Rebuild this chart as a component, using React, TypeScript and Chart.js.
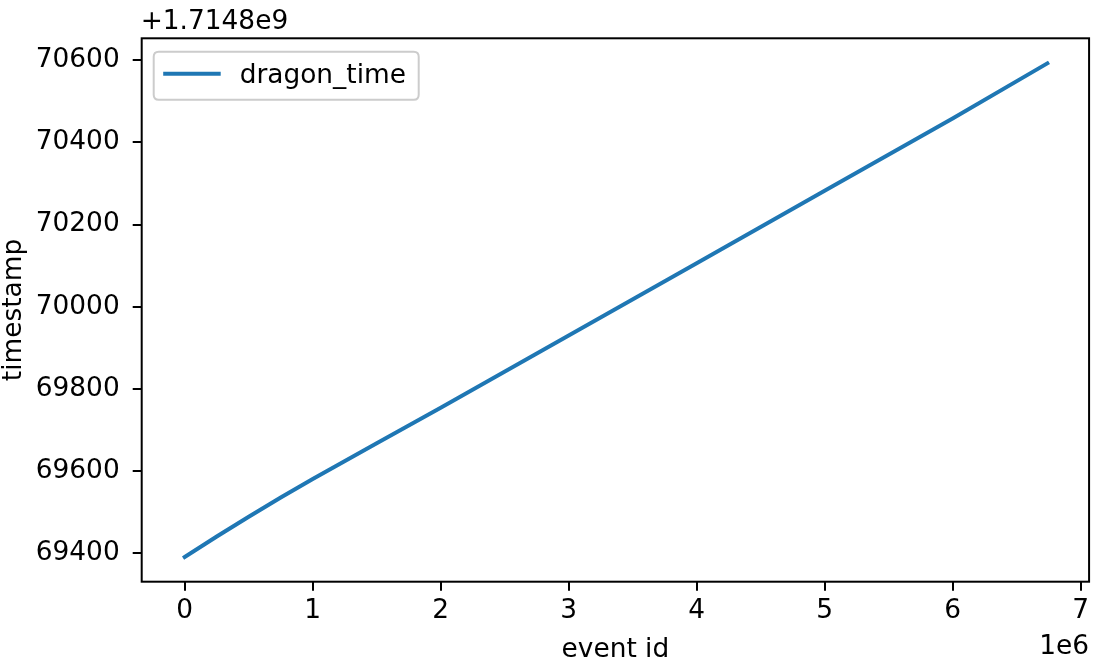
import React, { useEffect, useRef } from 'react';
import { Chart, registerables } from 'chart.js';

Chart.register(...registerables);

const OFFSET = 1.7148e9;
const seriesLabel = 'dragon_time';
const eventIds = [0, 0.25e6, 0.5e6, 0.75e6, 1e6, 1.5e6, 2e6, 3e6, 4e6, 5e6, 6e6, 6.74e6];
const timestampOffsets = [69391, 69441, 69489, 69536, 69581, 69668, 69754, 69930, 70106, 70282, 70458, 70592];
const xTicks = [0, 1, 2, 3, 4, 5, 6, 7];
const yTicks = [69400, 69600, 69800, 70000, 70200, 70400, 70600];
const xTitle = 'event id';
const yTitle = 'timestamp';
const xOffsetText = '1e6';
const yOffsetText = '+1.7148e9';

const FONT = '"DejaVu Sans", sans-serif';
const FS = 26.4;
const LINE_COLOR = '#1f77b4';

const decorPlugin = {
  id: 'decor',
  afterDraw(chart: any) {
    const { ctx, chartArea } = chart;
    const { left, right, top, bottom } = chartArea;
    ctx.save();
    // spines
    ctx.strokeStyle = '#000';
    ctx.lineWidth = 2;
    ctx.strokeRect(left, top, right - left, bottom - top);

    ctx.fillStyle = '#000';
    ctx.font = `${FS}px ${FONT}`;
    // offset texts
    ctx.textAlign = 'left';
    ctx.textBaseline = 'alphabetic';
    ctx.fillText(yOffsetText, left - 1, top - 9);
    ctx.textAlign = 'right';
    ctx.fillText(xOffsetText, right, 654);
    // x title
    ctx.textAlign = 'center';
    ctx.fillText(xTitle, (left + right) / 2, 657);
    // y title
    ctx.save();
    ctx.translate(21, (top + bottom) / 2);
    ctx.rotate(-Math.PI / 2);
    ctx.textAlign = 'center';
    ctx.textBaseline = 'alphabetic';
    ctx.fillText(yTitle, 0, 0);
    ctx.restore();

    // legend
    const bx = left + 12;
    const by = top + 13.5;
    const bw = 265;
    const bh = 48;
    const r = 5;
    ctx.beginPath();
    ctx.moveTo(bx + r, by);
    ctx.lineTo(bx + bw - r, by);
    ctx.quadraticCurveTo(bx + bw, by, bx + bw, by + r);
    ctx.lineTo(bx + bw, by + bh - r);
    ctx.quadraticCurveTo(bx + bw, by + bh, bx + bw - r, by + bh);
    ctx.lineTo(bx + r, by + bh);
    ctx.quadraticCurveTo(bx, by + bh, bx, by + bh - r);
    ctx.lineTo(bx, by + r);
    ctx.quadraticCurveTo(bx, by, bx + r, by);
    ctx.closePath();
    ctx.fillStyle = 'rgba(255,255,255,0.8)';
    ctx.fill();
    ctx.strokeStyle = '#cccccc';
    ctx.lineWidth = 2;
    ctx.stroke();

    ctx.strokeStyle = LINE_COLOR;
    ctx.lineWidth = 4;
    ctx.lineCap = 'butt';
    ctx.beginPath();
    ctx.moveTo(bx + 9.5, by + 22);
    ctx.lineTo(bx + 67, by + 22);
    ctx.stroke();

    ctx.fillStyle = '#000';
    ctx.textAlign = 'left';
    ctx.textBaseline = 'alphabetic';
    ctx.fillText(seriesLabel, bx + 86, by + 31.5);
    ctx.restore();
  },
};

export default function App() {
  const ref = useRef<HTMLCanvasElement | null>(null);

  useEffect(() => {
    document.body.style.margin = '0';
    const canvas = ref.current;
    if (!canvas) return;
    const data = eventIds.map((x, i) => ({ x, y: OFFSET + timestampOffsets[i] }));
    const chart = new Chart(canvas, {
      type: 'line',
      data: {
        datasets: [
          {
            label: seriesLabel,
            data,
            borderColor: LINE_COLOR,
            backgroundColor: LINE_COLOR,
            borderWidth: 4,
            pointRadius: 0,
            tension: 0,
            fill: false,
            borderCapStyle: 'square',
            borderJoinStyle: 'round',
          },
        ],
      },
      options: {
        animation: false,
        responsive: false,
        layout: { padding: { left: 0, top: 38.3, right: 4, bottom: 0 } },
        plugins: {
          legend: { display: false },
          tooltip: { enabled: false },
        },
        scales: {
          x: {
            type: 'linear',
            min: -0.3365e6,
            max: 7.0665e6,
            afterBuildTicks: (s: any) => {
              s.ticks = xTicks.map((v) => ({ value: v * 1e6 }));
            },
            afterFit: (s: any) => {
              s.height = 80.3;
            },
            ticks: {
              callback: (v: any) => String(Math.round(Number(v) / 1e6)),
              font: { family: FONT, size: FS },
              color: '#000',
              padding: 5,
              maxRotation: 0,
              autoSkip: false,
            },
            grid: {
              display: true,
              drawOnChartArea: false,
              drawTicks: true,
              tickLength: 9,
              color: '#000',
              lineWidth: 2,
            },
            border: { display: false },
          },
          y: {
            type: 'linear',
            min: OFFSET + 69331,
            max: OFFSET + 70653,
            afterBuildTicks: (s: any) => {
              s.ticks = yTicks.map((v) => ({ value: OFFSET + v }));
            },
            afterFit: (s: any) => {
              s.width = 141.7;
            },
            ticks: {
              callback: (v: any) => String(Math.round(Number(v) - OFFSET)),
              font: { family: FONT, size: FS },
              color: '#000',
              padding: 13,
              autoSkip: false,
            },
            grid: {
              display: true,
              drawOnChartArea: false,
              drawTicks: true,
              tickLength: 9,
              color: '#000',
              lineWidth: 2,
            },
            border: { display: false },
          },
        },
      },
      plugins: [decorPlugin],
    } as any);
    return () => chart.destroy();
  }, []);

  return (
    <div style={{ width: 1094, height: 662, background: '#fff' }}>
      <canvas ref={ref} width={1094} height={662} style={{ width: 1094, height: 662, display: 'block' }} />
    </div>
  );
}
